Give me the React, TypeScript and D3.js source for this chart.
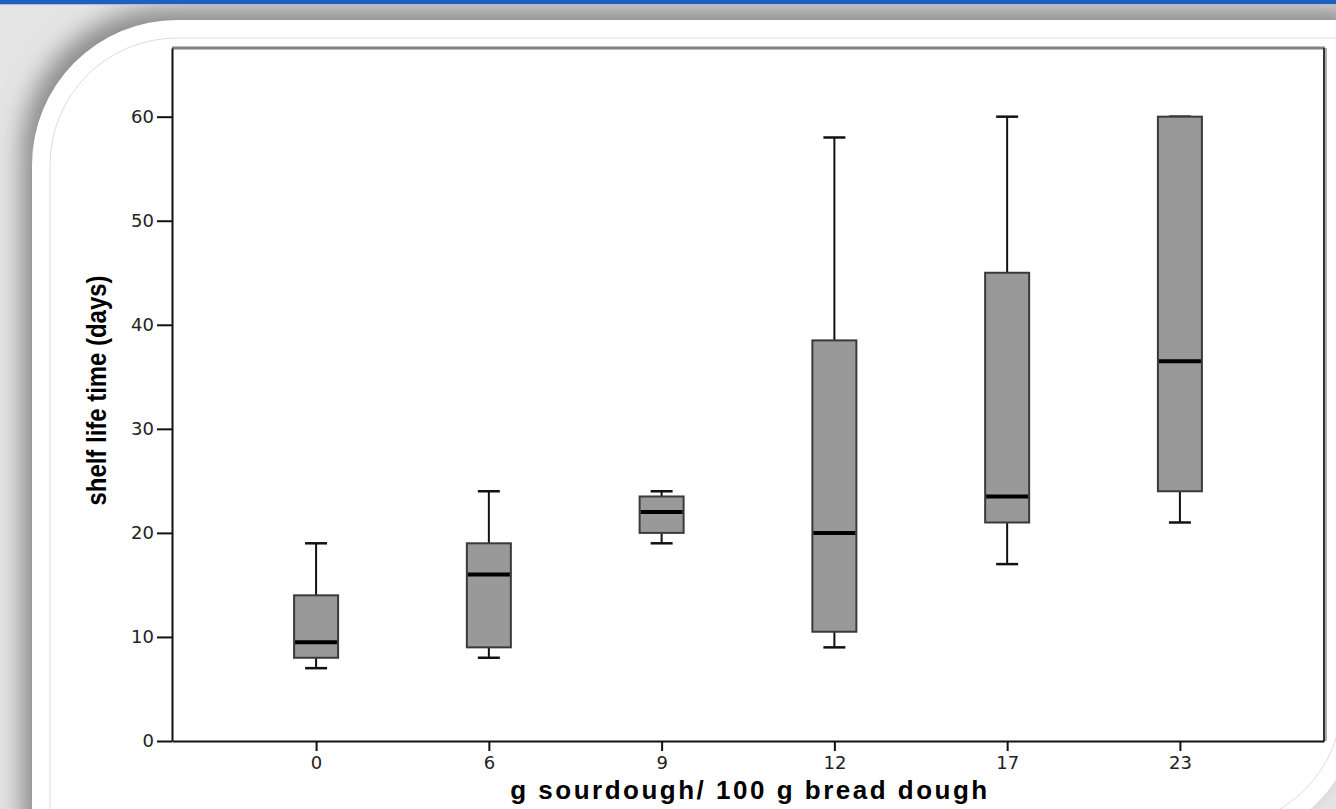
// box plot of bread shelf life time for different sourdough amounts
import React from 'react';
import * as d3 from 'd3';

// sourdough amount (g / 100 g bread dough)
const categories = ['0', '6', '9', '12', '17', '23'];
// box plot statistics per category (days)
const whiskerLow = [7, 8, 19, 9, 17, 21];
const quartile1 = [8, 9, 20, 10.5, 21, 24];
const medians = [9.5, 16, 22, 20, 23.5, 36.5];
const quartile3 = [14, 19, 23.5, 38.5, 45, 60];
const whiskerHigh = [19, 24, 24, 58, 60, 60];
const yTicks = [0, 10, 20, 30, 40, 50, 60];

const W = 1336, H = 809;
const plot = { left: 172, right: 1324, top: 48, bottom: 741 };

// slide panel: rounded top-left and bottom-right corners
const panelPath = 'M32,165 A145,145 0 0 1 177,20 H1360 V700 A145,145 0 0 1 1215,845 H32 Z';
const innerPath = 'M50,165 A127,127 0 0 1 177,38 H1342 V700 A127,127 0 0 1 1215,827 H50 Z';

const App = () => {
  // categorical x positions
  const xScale = d3.scalePoint<string>()
    .domain(categories)
    .range([plot.left, plot.right])
    .padding(0.834);

  // shelf life in days
  const yScale = d3.scaleLinear()
    .domain([0, 66.6])
    .range([plot.bottom, plot.top]);

  const boxes = categories.map((c, i) => ({
    c, lo: whiskerLow[i], q1: quartile1[i], med: medians[i], q3: quartile3[i], hi: whiskerHigh[i]
  }));

  const boxW = 44, capW = 22;

  // style the d3 axis output to look like the spss export
  const styleAxis = (g: any) => {
    g.select('.domain').attr('stroke', '#111').attr('stroke-width', 2);
    g.selectAll('.tick line').attr('stroke', '#111').attr('stroke-width', 2);
    g.selectAll('.tick text')
      .attr('fill', '#222')
      .style('font-family', '"DejaVu Sans", sans-serif')
      .style('font-size', '18px');
  };

  return (
    <svg width={W} height={H} style={{ position: 'fixed', left: 0, top: 0 }}>
      <defs>
        <filter id="panelShadow" x="-10%" y="-10%" width="120%" height="120%">
          <feGaussianBlur stdDeviation="12" />
        </filter>
      </defs>
      {/* slide background */}
      <rect x={0} y={0} width={W} height={H} fill="#e4e4e4" />
      <path d={panelPath} transform="translate(-10,-12)" fill="#8a8a8a" filter="url(#panelShadow)" />
      <rect x={0} y={0} width={W} height={4} fill="#1f5fc0" />
      <rect x={0} y={4} width={W} height={1} fill="#a9bddf" />
      {/* white panel */}
      <path d={panelPath} fill="#fff" />
      <path d={innerPath} fill="none" stroke="#dcdcdc" strokeWidth={1} />

      {/* frame top and right */}
      <line x1={plot.left} x2={plot.right + 1} y1={plot.top} y2={plot.top} stroke="#808080" strokeWidth={3} />
      <line x1={plot.right + 2} x2={plot.right + 2} y1={plot.top} y2={plot.bottom} stroke="#b0b0b0" strokeWidth={2} />
      <line x1={plot.right} x2={plot.right} y1={plot.top} y2={plot.bottom} stroke="#333" strokeWidth={2} />

      {/* axes */}
      <g transform={`translate(${plot.left}, 0)`}
        ref={node => { if (node) d3.select(node).call(d3.axisLeft(yScale).tickValues(yTicks).tickSize(15).tickSizeOuter(0).tickPadding(3)).call(styleAxis); }} />
      <g transform={`translate(0, ${plot.bottom})`}
        ref={node => { if (node) d3.select(node).call(d3.axisBottom(xScale).tickSize(10).tickSizeOuter(0).tickPadding(5)).call(styleAxis); }} />

      {/* whiskers */}
      {boxes.map(d => {
        const cx = xScale(d.c) as number;
        return (
          <g key={`w-${d.c}`} stroke="#111" strokeWidth={2}>
            <line x1={cx} x2={cx} y1={yScale(d.q3)} y2={yScale(d.hi)} />
            <line x1={cx} x2={cx} y1={yScale(d.q1)} y2={yScale(d.lo)} />
            <line x1={cx - capW / 2} x2={cx + capW / 2} y1={yScale(d.hi)} y2={yScale(d.hi)} strokeWidth={2.5} />
            <line x1={cx - capW / 2} x2={cx + capW / 2} y1={yScale(d.lo)} y2={yScale(d.lo)} strokeWidth={2.5} />
          </g>
        );
      })}
      {/* boxes and medians */}
      {boxes.map(d => {
        const cx = xScale(d.c) as number;
        return (
          <g key={`b-${d.c}`}>
            <rect x={cx - boxW / 2} y={yScale(d.q3)} width={boxW} height={yScale(d.q1) - yScale(d.q3)}
              fill="#999999" stroke="#3a3a3a" strokeWidth={2} />
            <line x1={cx - boxW / 2 + 1} x2={cx + boxW / 2 - 1} y1={yScale(d.med)} y2={yScale(d.med)} stroke="#000" strokeWidth={4} />
          </g>
        );
      })}

      {/* axis titles */}
      <text transform={`translate(106, ${(plot.top + plot.bottom) / 2 - 4}) rotate(-90)`} textAnchor="middle"
        textLength={230} lengthAdjust="spacingAndGlyphs"
        style={{ fontFamily: '"Liberation Sans", Arial, sans-serif', fontWeight: 'bold', fontSize: '28px', fill: '#000' }}>
        shelf life time (days)
      </text>
      <text x={750} y={799} textAnchor="middle"
        style={{ fontFamily: '"Liberation Sans", Arial, sans-serif', fontWeight: 'bold', fontSize: '26px', letterSpacing: '2.5px', fill: '#000' }}>
        g sourdough/ 100 g bread dough
      </text>
    </svg>
  );
};

export default App;
